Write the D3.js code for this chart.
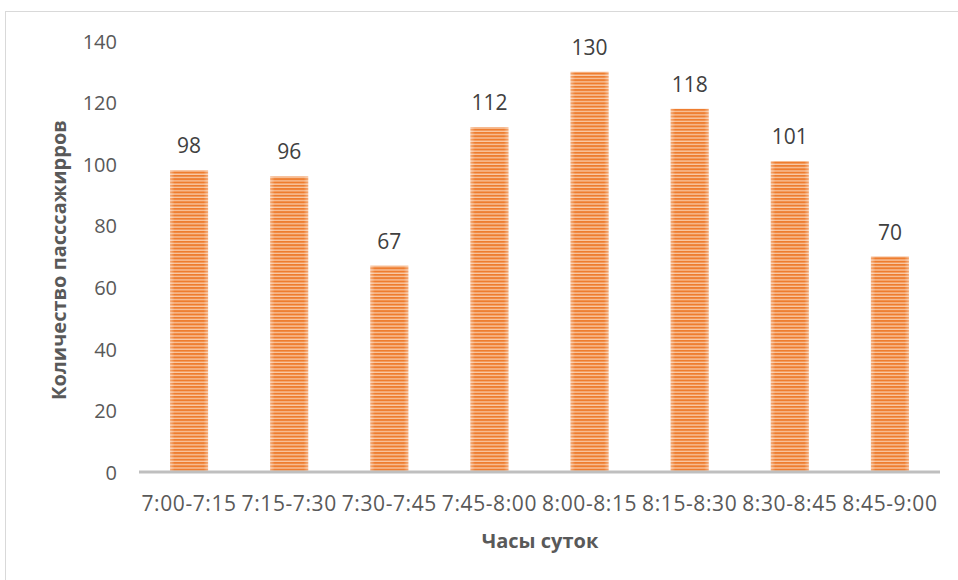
<!DOCTYPE html>
<html>
<head>
<meta charset="utf-8">
<script src="https://cdn.jsdelivr.net/npm/d3@7"></script>
<style>
  html, body { margin: 0; padding: 0; background: #fff; }
  svg { display: block; }
</style>
</head>
<body>
<svg id="chart" width="958" height="580"></svg>
<script>
// Passenger counts per 15-minute interval
const categories = ["7:00-7:15", "7:15-7:30", "7:30-7:45", "7:45-8:00", "8:00-8:15", "8:15-8:30", "8:30-8:45", "8:45-9:00"];
const passengers = [98, 96, 67, 112, 130, 118, 101, 70];
const yTicks = [0, 20, 40, 60, 80, 100, 120, 140];

const svg = d3.select("#chart");
const font = "'Open Sans', 'Noto Sans', sans-serif";
const textColor = "#595959";

// Chart frame
svg.append("rect")
  .attr("x", 5.5).attr("y", 11.5)
  .attr("width", 1000).attr("height", 600)
  .attr("fill", "none").attr("stroke", "#d9d9d9").attr("stroke-width", 1);

// Horizontal-stripe fill for the bars
const defs = svg.append("defs");
const pat = defs.append("pattern")
  .attr("id", "stripes")
  .attr("patternUnits", "userSpaceOnUse")
  .attr("width", 10).attr("height", 3.3);
pat.append("rect").attr("width", 10).attr("height", 3.3).attr("fill", "#f9c9a6");
pat.append("rect").attr("width", 10).attr("height", 2).attr("fill", "#ee7d2f");

const edge = defs.append("linearGradient").attr("id", "edgeFade");
edge.append("stop").attr("offset", "0").attr("stop-color", "#fff").attr("stop-opacity", 0.35);
edge.append("stop").attr("offset", "0.12").attr("stop-color", "#fff").attr("stop-opacity", 0);
edge.append("stop").attr("offset", "0.88").attr("stop-color", "#fff").attr("stop-opacity", 0);
edge.append("stop").attr("offset", "1").attr("stop-color", "#fff").attr("stop-opacity", 0.35);

const x = d3.scaleBand().domain(categories).range([139, 940]).paddingInner(0.62).paddingOuter(0.31);
const y = d3.scaleLinear().domain([0, 140]).range([472, 41]);

// Y tick labels (no axis line, no gridlines)
const yAxis = d3.axisLeft(y).tickValues(yTicks).tickSize(0).tickPadding(0);
const gy = svg.append("g").attr("transform", "translate(117,0)").call(yAxis);
gy.select(".domain").remove();
gy.selectAll("text")
  .attr("font-family", font).attr("font-size", 20).attr("fill", textColor)
  .attr("dy", "0.36em");

// Bars
const data = categories.map((c, i) => ({ c, v: passengers[i] }));
const bars = svg.append("g");
bars.selectAll("rect.bar").data(data).join("rect")
  .attr("class", "bar")
  .attr("x", d => x(d.c)).attr("width", x.bandwidth())
  .attr("y", d => y(d.v)).attr("height", d => y(0) - y(d.v))
  .attr("fill", "url(#stripes)");
bars.selectAll("rect.fade").data(data).join("rect")
  .attr("class", "fade")
  .attr("x", d => x(d.c)).attr("width", x.bandwidth())
  .attr("y", d => y(d.v)).attr("height", d => y(0) - y(d.v))
  .attr("fill", "url(#edgeFade)");

// Value labels
svg.append("g").selectAll("text").data(data).join("text")
  .attr("x", d => x(d.c) + x.bandwidth() / 2)
  .attr("y", d => y(d.v) - 17)
  .attr("text-anchor", "middle")
  .attr("font-family", font).attr("font-size", 21).attr("fill", "#404040")
  .text(d => d.v);

// X axis
const xAxis = d3.axisBottom(x).tickSize(0).tickPadding(0);
const gx = svg.append("g").attr("transform", "translate(0,472)").call(xAxis);
gx.select(".domain").attr("stroke", "#bfbfbf").attr("stroke-width", 3)
  .attr("d", "M139,0H940");
gx.selectAll("text")
  .attr("font-family", font).attr("font-size", 21).attr("fill", textColor)
  .attr("letter-spacing", "0.6px")
  .attr("dy", "0").attr("y", 39);

// Axis titles
svg.append("text")
  .attr("x", 540).attr("y", 548)
  .attr("text-anchor", "middle")
  .attr("font-family", font).attr("font-size", 20).attr("font-weight", "bold").attr("fill", textColor)
  .text("Часы суток");

svg.append("text")
  .attr("transform", "translate(66,260) rotate(-90)")
  .attr("text-anchor", "middle")
  .attr("font-family", font).attr("font-size", 20).attr("font-weight", "bold").attr("fill", textColor)
  .text("Количество пасссажирров");
</script>
</body>
</html>
